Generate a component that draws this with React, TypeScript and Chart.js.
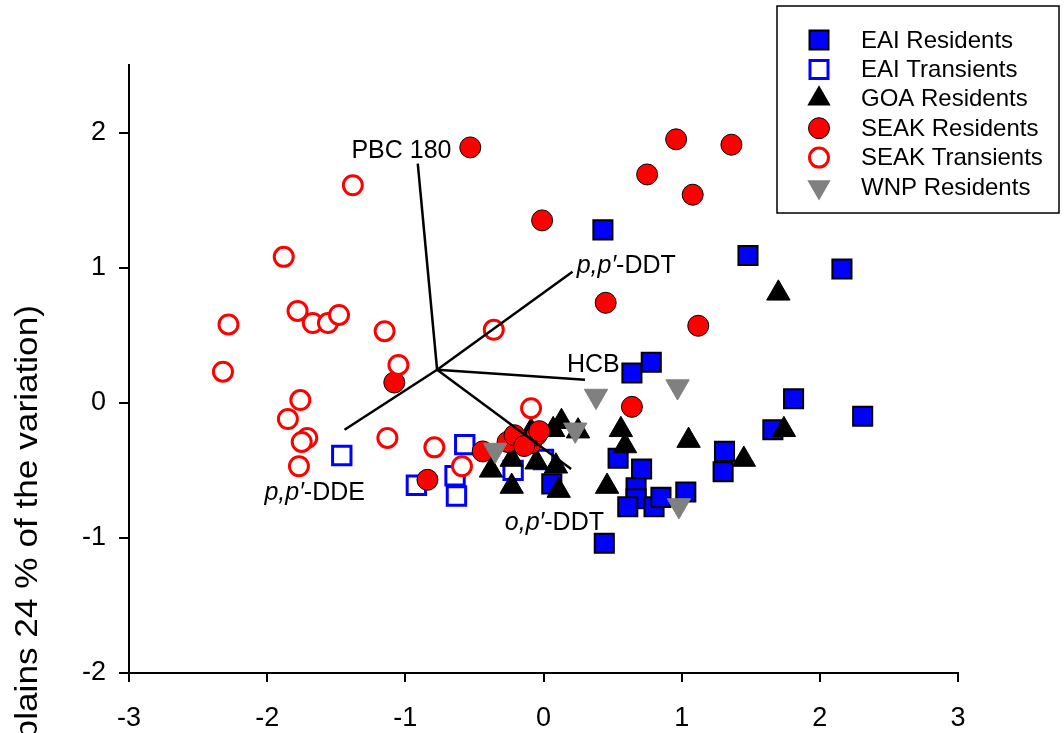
import React, { useEffect, useRef } from 'react';
import { Chart, registerables } from 'chart.js';

Chart.register(...registerables);

// ---- Data ----
const xTicks = [-3, -2, -1, 0, 1, 2, 3];
const yTicks = [-2, -1, 0, 1, 2];

const seriesNames = ['EAI Residents', 'EAI Transients', 'GOA Residents', 'SEAK Residents', 'SEAK Transients', 'WNP Residents'];

const eaiResX = [0.43, 1.48, 2.16, 0.64, 0.78, 1.81, 2.31, 1.66, 1.31, 1.30, 0.54, 0.71, 0.67, 0.67, 0.61, 0.80, 0.85, 1.03, 0.44, 0.06];
const eaiResY = [1.28, 1.09, 0.99, 0.22, 0.30, 0.03, -0.10, -0.20, -0.36, -0.51, -0.41, -0.49, -0.63, -0.71, -0.77, -0.77, -0.70, -0.66, -1.04, -0.60];

const eaiTransX = [-1.46, -0.92, -0.57, -0.64, -0.63, -0.22, 0.00];
const eaiTransY = [-0.39, -0.61, -0.31, -0.54, -0.69, -0.50, -0.42];

const goaResX = [1.70, 1.74, 1.45, 0.56, 0.59, 1.05, 0.46, 0.13, 0.07, 0.25, -0.23, -0.38, -0.23, -0.05, 0.09, 0.11, -0.09];
const goaResY = [0.81, -0.20, -0.42, -0.20, -0.32, -0.28, -0.62, -0.14, -0.20, -0.21, -0.42, -0.50, -0.62, -0.44, -0.47, -0.65, -0.21];

const seakResX = [-0.53, 0.96, 1.36, 0.75, 1.08, -0.01, 0.45, 1.12, -1.08, 0.64, -0.84, -0.44, -0.26, -0.21, -0.09, -0.05, -0.03, -0.14];
const seakResY = [1.89, 1.95, 1.91, 1.69, 1.54, 1.35, 0.74, 0.57, 0.15, -0.03, -0.57, -0.36, -0.29, -0.24, -0.30, -0.24, -0.21, -0.32];

const seakTransX = [-1.38, -1.88, -1.78, -1.67, -1.56, -1.48, -2.28, -1.15, -2.32, -1.05, -1.76, -1.85, -1.71, -1.75, -1.77, -1.13, -0.79, -0.59, -0.09, -0.36];
const seakTransY = [1.61, 1.08, 0.68, 0.59, 0.59, 0.65, 0.58, 0.53, 0.23, 0.28, 0.02, -0.12, -0.26, -0.29, -0.47, -0.26, -0.33, -0.47, -0.04, 0.54];

const wnpResX = [0.38, 0.97, 0.23, 0.98, -0.35];
const wnpResY = [0.05, 0.12, -0.20, -0.76, -0.35];

// Biplot vectors
const vectorOrigin = [-0.77, 0.245];
const vectorEndX = [-0.91, 0.21, 0.30, 0.20, -1.44];
const vectorEndY = [1.77, 0.97, 0.17, -0.49, -0.20];
const vectorItalic = ['', 'p,p\u2032', '', 'o,p\u2032', 'p,p\u2032'];
const vectorRest = ['PBC 180', '-DDT', 'HCB', '-DDT', '-DDE'];
const vectorLabelX = [-1.39, 0.24, 0.17, -0.28, -2.02];
const vectorLabelY = [1.86, 1.01, 0.28, -0.89, -0.67];

const yTitle = 'PC 2 (explains 24 % of the variation)';

const FONT = '"Liberation Sans", Arial, sans-serif';

function pts(xs: number[], ys: number[]) {
  return xs.map((x, i) => ({ x, y: ys[i] }));
}

function drawSymbol(ctx: CanvasRenderingContext2D, kind: number, x: number, y: number) {
  ctx.save();
  ctx.beginPath();
  if (kind === 0) {
    ctx.rect(x - 9.5, y - 9.5, 19, 19);
    ctx.fillStyle = '#0000ff';
    ctx.fill();
    ctx.lineWidth = 2;
    ctx.strokeStyle = '#000';
    ctx.stroke();
  } else if (kind === 1) {
    ctx.rect(x - 9, y - 9, 18, 18);
    ctx.fillStyle = '#fff';
    ctx.fill();
    ctx.lineWidth = 3;
    ctx.strokeStyle = '#0000ff';
    ctx.stroke();
  } else if (kind === 2) {
    const r = 13.5;
    ctx.moveTo(x, y - r);
    ctx.lineTo(x + r * Math.sin((2 * Math.PI) / 3), y + r / 2);
    ctx.lineTo(x - r * Math.sin((2 * Math.PI) / 3), y + r / 2);
    ctx.closePath();
    ctx.fillStyle = '#000';
    ctx.fill();
  } else if (kind === 3) {
    ctx.arc(x, y, 10.5, 0, Math.PI * 2);
    ctx.fillStyle = '#ff0000';
    ctx.fill();
    ctx.lineWidth = 1;
    ctx.strokeStyle = '#000';
    ctx.stroke();
  } else if (kind === 4) {
    ctx.arc(x, y, 9.5, 0, Math.PI * 2);
    ctx.fillStyle = '#fff';
    ctx.fill();
    ctx.lineWidth = 3;
    ctx.strokeStyle = '#ff0000';
    ctx.stroke();
  } else {
    const r = 13.5;
    ctx.moveTo(x, y + r);
    ctx.lineTo(x + r * Math.sin((2 * Math.PI) / 3), y - r / 2);
    ctx.lineTo(x - r * Math.sin((2 * Math.PI) / 3), y - r / 2);
    ctx.closePath();
    ctx.fillStyle = '#808080';
    ctx.fill();
  }
  ctx.restore();
}

const overlayPlugin = {
  id: 'overlay',
  afterDraw(chart: any) {
    const ctx: CanvasRenderingContext2D = chart.ctx;
    const xs = chart.scales.x;
    const ys = chart.scales.y;

    // vector labels
    ctx.save();
    ctx.fillStyle = '#000';
    ctx.textBaseline = 'middle';
    ctx.textAlign = 'left';
    vectorRest.forEach((rest, i) => {
      let px = xs.getPixelForValue(vectorLabelX[i]);
      const py = ys.getPixelForValue(vectorLabelY[i]);
      if (vectorItalic[i]) {
        ctx.font = `italic 25px ${FONT}`;
        ctx.fillText(vectorItalic[i], px, py);
        px += ctx.measureText(vectorItalic[i]).width;
      }
      ctx.font = `25px ${FONT}`;
      ctx.fillText(rest, px, py);
    });
    ctx.restore();

    // y-axis title (partially off-canvas)
    ctx.save();
    ctx.translate(37, 305);
    ctx.rotate(-Math.PI / 2);
    ctx.scale(1.1, 1);
    ctx.font = `32px ${FONT}`;
    ctx.fillStyle = '#000';
    ctx.textAlign = 'right';
    ctx.textBaseline = 'alphabetic';
    ctx.fillText(yTitle, 0, 0);
    ctx.restore();

    // legend box
    ctx.save();
    ctx.fillStyle = '#fff';
    ctx.fillRect(777, 6, 282, 207);
    ctx.lineWidth = 1.5;
    ctx.strokeStyle = '#000';
    ctx.strokeRect(777, 6, 282, 207);
    ctx.font = `24px ${FONT}`;
    ctx.textAlign = 'left';
    ctx.textBaseline = 'middle';
    seriesNames.forEach((name, i) => {
      const y = 40 + i * 29.4;
      drawSymbol(ctx, i, 819, y);
      ctx.fillStyle = '#000';
      ctx.fillText(name, 861, y + 1);
    });
    ctx.restore();
  },
};

export default function App() {
  const ref = useRef<HTMLCanvasElement | null>(null);

  useEffect(() => {
    if (!ref.current) return;
    const vectorSets = vectorEndX.map((ex, i) => ({
      label: 'v' + i,
      data: [
        { x: vectorOrigin[0], y: vectorOrigin[1] },
        { x: ex, y: vectorEndY[i] },
      ],
      showLine: true,
      borderColor: '#000',
      borderWidth: 2.5,
      pointRadius: 0,
      order: 0,
    }));

    const chart = new Chart(ref.current, {
      type: 'scatter',
      data: {
        datasets: [
          {
            label: seriesNames[0],
            data: pts(eaiResX, eaiResY),
            pointStyle: 'rect',
            pointRadius: 13.5,
            backgroundColor: '#0000ff',
            borderColor: '#000',
            borderWidth: 2,
            order: 6,
          },
          {
            label: seriesNames[1],
            data: pts(eaiTransX, eaiTransY),
            pointStyle: 'rect',
            pointRadius: 13,
            backgroundColor: '#ffffff',
            borderColor: '#0000ff',
            borderWidth: 3,
            order: 5,
          },
          {
            label: seriesNames[2],
            data: pts(goaResX, goaResY),
            pointStyle: 'triangle',
            pointRadius: 13.5,
            backgroundColor: '#000',
            borderColor: '#000',
            borderWidth: 1,
            order: 4,
          },
          {
            label: seriesNames[3],
            data: pts(seakResX, seakResY),
            pointStyle: 'circle',
            pointRadius: 10.5,
            backgroundColor: '#ff0000',
            borderColor: '#000',
            borderWidth: 1,
            order: 3,
          },
          {
            label: seriesNames[4],
            data: pts(seakTransX, seakTransY),
            pointStyle: 'circle',
            pointRadius: 9.5,
            backgroundColor: '#ffffff',
            borderColor: '#ff0000',
            borderWidth: 3,
            order: 2,
          },
          {
            label: seriesNames[5],
            data: pts(wnpResX, wnpResY),
            pointStyle: 'triangle',
            rotation: 180,
            pointRadius: 13.5,
            backgroundColor: '#808080',
            borderColor: '#808080',
            borderWidth: 1,
            order: 1,
          },
          ...vectorSets,
        ] as any,
      },
      options: {
        animation: false,
        responsive: false,
        maintainAspectRatio: false,
        layout: { padding: { left: 0, top: 65, right: 106, bottom: 0 } },
        plugins: {
          legend: { display: false },
          tooltip: { enabled: false },
        },
        scales: {
          x: {
            type: 'linear',
            min: -3,
            max: 3,
            afterBuildTicks: (s: any) => {
              s.ticks = xTicks.map((v) => ({ value: v }));
            },
            afterFit: (s: any) => {
              s.height = 60;
            },
            grid: {
              display: true,
              drawOnChartArea: false,
              drawTicks: true,
              tickLength: 9,
              color: '#000',
              lineWidth: 2,
            },
            border: { display: true, color: '#000', width: 2 },
            ticks: {
              color: '#000',
              padding: 20,
              maxRotation: 0,
              font: { family: FONT, size: 27 },
            },
          },
          y: {
            type: 'linear',
            min: -2,
            max: 2.5,
            afterBuildTicks: (s: any) => {
              s.ticks = yTicks.map((v) => ({ value: v }));
            },
            afterFit: (s: any) => {
              s.width = 129;
            },
            grid: {
              display: true,
              drawOnChartArea: false,
              drawTicks: true,
              tickLength: 10,
              color: '#000',
              lineWidth: 2,
            },
            border: { display: true, color: '#000', width: 2 },
            ticks: {
              color: '#000',
              padding: 13,
              font: { family: FONT, size: 27 },
            },
          },
        },
      } as any,
      plugins: [overlayPlugin],
    });
    return () => chart.destroy();
  }, []);

  return (
    <div style={{ position: 'fixed', left: 0, top: 0, width: 1064, height: 733, background: '#fff', overflow: 'hidden' }}>
      <canvas ref={ref} width={1064} height={733} style={{ display: 'block' }} />
    </div>
  );
}
